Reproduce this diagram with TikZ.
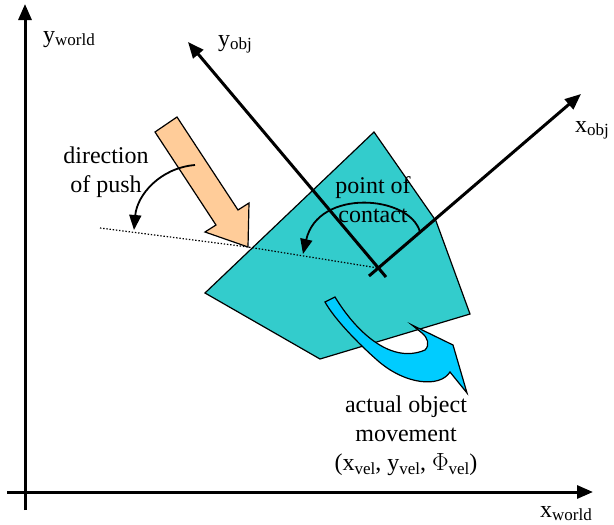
\documentclass[tikz,border=0pt]{standalone}
\usepackage{fontspec}
\setmainfont{Liberation Serif}
\usetikzlibrary{arrows.meta}
\definecolor{teal1}{HTML}{33CCCC}
\definecolor{peach}{HTML}{FFCC99}
\definecolor{skyb}{HTML}{00CCFF}
\newcommand\sbs[1]{\raisebox{-3.5pt}{\fontsize{17}{17}\selectfont #1}}
\tikzset{
  axis/.style={line width=3pt,-{Triangle[length=16pt,width=13pt]}},
  turn/.style={line width=1.8pt,-{Triangle[length=15pt,width=12pt]}},
  shapeline/.style={draw=black,line width=1.2pt,line join=miter},
  lbl/.style={inner sep=0pt,font=\fontsize{24}{29}\selectfont,align=center}
}
\begin{document}
\begin{tikzpicture}[x=1pt,y=-1pt]
\useasboundingbox (0,0) rectangle (614,525);
% coordinates
\coordinate (wy0) at (25,510);
\coordinate (wy1) at (25,4);
\coordinate (wx0) at (7,492);
\coordinate (wx1) at (593,492);
\coordinate (O) at (378,268);
\coordinate (oy1) at (188,42);
\coordinate (oy0) at (386,277);
\coordinate (ox1) at (581,94);
\coordinate (ox0) at (369,276);
\coordinate (dl) at (100,228);
% object polygon
\filldraw[shapeline,fill=teal1] (205,293) -- (374,132) -- (436,221) -- (470,314) -- (320,359) -- cycle;
% push arrow
\filldraw[shapeline,fill=peach] (155,132) -- (177,117) -- (238,210) -- (249,203) -- (248,247) -- (205,232) -- (216,225) -- cycle;
\coordinate (tip) at (248,247);
% movement arrow
\filldraw[shapeline,fill=skyb] (325,302) -- (335,297)
  .. controls (355,330) and (390,365) .. (425,350)
  .. controls (430,345) and (428,338) .. (422,333)
  -- (412,325) -- (453,345) -- (467,393) -- (450,372)
  .. controls (440,388) and (405,385) .. (377,360)
  .. controls (360,345) and (335,320) .. cycle;
% dotted line
\draw[line width=1.2pt,dash pattern=on 1.4pt off 1.8pt] (dl) -- (tip) -- (O);
% world axes
\draw[axis] (wy0) -- (wy1);
\draw[axis] (wx0) -- (wx1);
% object axes
\draw[axis] (oy0) -- (oy1);
\draw[axis] (ox0) -- (ox1);
% labels
\node[lbl,anchor=base west] (ywl) at (43,42) {y\sbs{world}};
\node[lbl,anchor=base west] (xwl) at (540,517) {x\sbs{world}};
\node[lbl,anchor=base west] (yol) at (218,46) {y\sbs{obj}};
\node[lbl,anchor=base west] (xol) at (575,132) {x\sbs{obj}};
\node[lbl] (dop) at (106,172) {direction\\of push};
\node[lbl] (poc) at (373,200) {point of\\contact};
\node[lbl] (mov) at (406,436) {actual object\\movement\\(x\sbs{vel}, y\sbs{vel}, \(\Phi\)\sbs{vel})};
% turning arrows
\coordinate (a1s) at (195,165);
\coordinate (a1e) at (134,230);
\draw[turn] (a1s) .. controls (160,168) and (137,195) .. (a1e);
\coordinate (a2s) at (420,232);
\coordinate (a2e) at (303,254);
\draw[turn] (a2s) .. controls (410,195) and (318,188) .. (a2e);
\end{tikzpicture}
\end{document}
